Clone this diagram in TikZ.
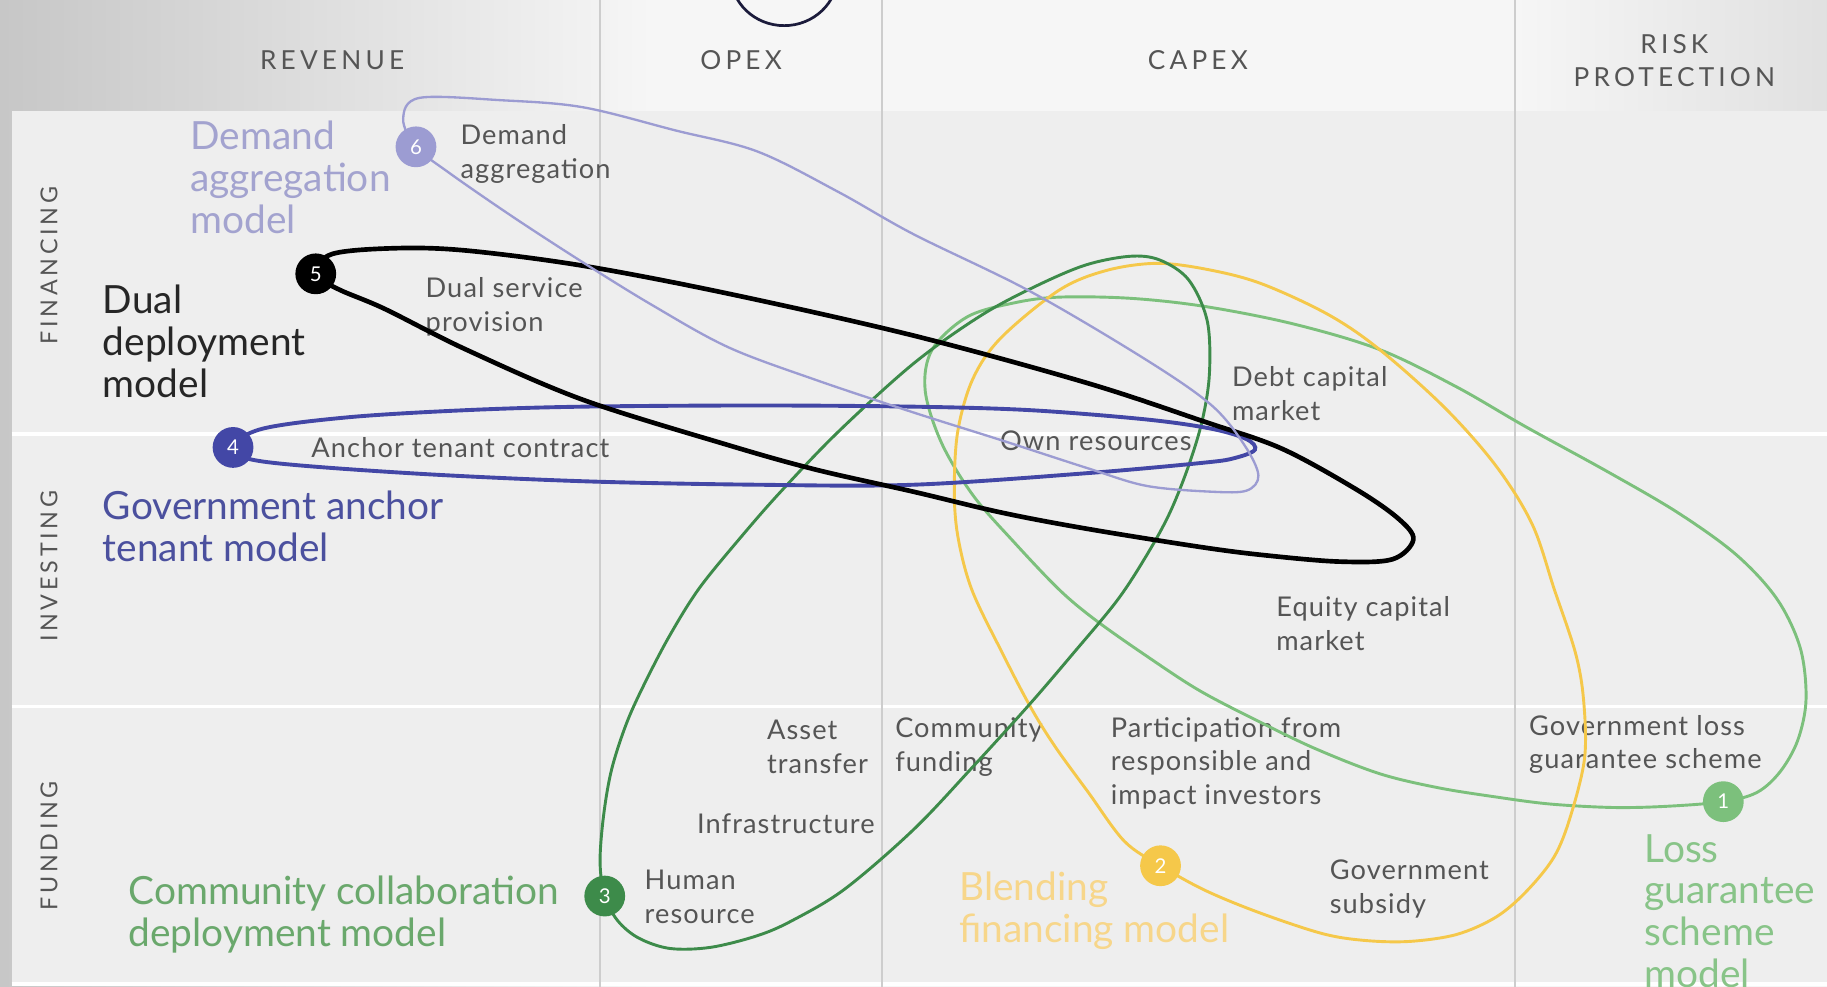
\documentclass[tikz,border=0pt]{standalone}
\usepackage{fontspec}
\setmainfont{Lato}[LetterSpace=4]
\newfontfamily\capsfont{Lato}[LetterSpace=16]
\newfontfamily\bigfont{Lato}
\usetikzlibrary{positioning}
\definecolor{cell}{HTML}{EEEEEE}
\definecolor{rule}{HTML}{CDCDCD}
\definecolor{txt}{HTML}{555555}
\definecolor{lav}{HTML}{9C9CD2}
\definecolor{lavtxt}{HTML}{A3A3CF}
\definecolor{navy}{HTML}{4347A6}
\definecolor{navytxt}{HTML}{4B509E}
\definecolor{dgreen}{HTML}{3D8B4A}
\definecolor{dgreentxt}{HTML}{6AA86C}
\definecolor{gold}{HTML}{F5C84A}
\definecolor{goldtxt}{HTML}{F7D68A}
\definecolor{lgreen}{HTML}{7CC07C}
\definecolor{lgreentxt}{HTML}{88C488}
\definecolor{ink}{HTML}{1B1B3B}
\definecolor{paper}{HTML}{F6F6F6}
\begin{document}
\begin{tikzpicture}[x=0.6pt,y=-0.6pt,
    head/.style={font=\capsfont\fontsize{13.5}{16.8}\selectfont, text=txt, align=center},
    side/.style={font=\capsfont\fontsize{12}{14}\selectfont, text=txt, rotate=90},
    item/.style={font=\fontsize{14}{17.4}\selectfont, text=txt, align=left, anchor=west, inner sep=0pt},
    model/.style={font=\bigfont\fontsize{20}{21.6}\selectfont, align=left, anchor=west, inner sep=0pt},
    badge/.style={circle, fill=#1, text=white, minimum size=21pt, inner sep=0pt, font=\fontsize{10.5}{10.5}\selectfont},
    loop/.style={draw=#1, line width=1.5pt}]
\useasboundingbox (0,0) rectangle (1568,847);
\fill[paper] (0,0) rectangle (1568,847);
\shade[left color=black!22, right color=paper] (0,0) rectangle (560,847);
\shade[left color=paper, right color=black!12] (1300,0) rectangle (1568,95);
\foreach \ya/\yb in {95/371, 374/605, 608/843}
  \fill[cell] (10,\ya) rectangle (1568,\yb);
\foreach \ya in {372.5,606.5,844.5}
  \draw[white, line width=1.6pt] (10,\ya) -- (1568,\ya);
\foreach \xa in {515,757,1300}
  \draw[rule, line width=0.9pt] (\xa,0) -- (\xa,847);
\draw[ink, line width=1.4pt] (673,-22) ellipse [x radius=46, y radius=44];

\node[head] (rev) at (285,52) {REVENUE};
\node[head] (opex) at (636,52) {OPEX};
\node[head] (capex) at (1028,52) {CAPEX};
\node[head] (risk) at (1437,52) {RISK\\PROTECTION};
\node[side] (fin) at (42,228) {FINANCING};
\node[side] (inv) at (42,486) {INVESTING};
\node[side] (fund) at (42,726) {FUNDING};

\node[model, text=lavtxt] (m6) at (163,152) {Demand\\aggregation\\model};
\node[model, text=black!85] (m5) at (88,293) {Dual\\deployment\\model};
\node[model, text=navytxt] (m4) at (88,452) {Government anchor\\tenant model};
\node[model, text=dgreentxt] (m3) at (110,785) {Community collaboration\\deployment model};
\node[model, text=goldtxt] (m2) at (823,782) {Blending\\financing model};
\node[model, text=lgreentxt] (m1) at (1411,782) {Loss\\guarantee\\scheme\\model};

\node[item] (demand) at (395,132) {Demand\\aggregation};
\node[item] (dual) at (365,263) {Dual service\\provision};
\node[item] (anchor) at (267,384) {Anchor tenant contract};
\node[item] (debt) at (1057,338) {Debt capital\\market};
\node[item] (own) at (858,378) {Own resources};
\node[item] (equity) at (1095,535) {Equity capital\\market};
\node[item] (asset) at (658,641) {Asset\\transfer};
\node[item] (comm) at (768,641) {Community\\funding};
\node[item] (part) at (953,655) {Participation from\\responsible and\\impact investors};
\node[item] (gloss) at (1312,639) {Government loss\\guarantee scheme};
\node[item] (infra) at (598,707) {Infrastructure};
\node[item] (human) at (553,770) {Human\\resource};
\node[item] (subsidy) at (1141,763) {Government\\subsidy};

\coordinate (c6) at (357,126);
\coordinate (c5) at (271,235);
\coordinate (c4) at (200,384);
\coordinate (c3) at (519,769);
\coordinate (c2) at (996,743);
\coordinate (c1) at (1479,688);

\draw[loop=lgreen] plot[smooth cycle, tension=0.55] coordinates {(c1) (1430,692) (1384,693) (1330,690) (1284,684) (1234,676) (1184,664) (1130,643) (1084,621) (1030,593) (984,563) (940,532) (909,506) (870,465) (835,425) (808,380) (794,335) (800,300) (830,272) (870,260) (909,255) (970,256) (1034,263) (1110,278) (1184,300) (1250,332) (1309,366) (1380,405) (1440,440) (1490,476) (1525,514) (1545,556) (1550,600) (1543,635) (1528,662) (1508,680)};
\draw[loop=gold] plot[smooth cycle, tension=0.55] coordinates {(c2) (965,722) (934,680) (905,640) (884,606) (860,560) (834,506) (822,460) (819,420) (822,370) (835,325) (859,290) (909,249) (950,232) (994,226) (1040,232) (1084,244) (1140,270) (1184,300) (1240,350) (1284,400) (1315,450) (1334,506) (1352,560) (1359,600) (1360,650) (1348,700) (1334,735) (1310,765) (1284,787) (1250,802) (1209,808) (1170,807) (1134,801) (1080,783) (1034,764)};
\draw[loop=dgreen] plot[smooth cycle, tension=0.55] coordinates {(c3) (515,740) (518,700) (525,660) (538,620) (554,585) (575,545) (600,505) (635,462) (670,422) (720,370) (784,312) (840,272) (884,248) (930,228) (969,220) (995,223) (1020,240) (1036,275) (1038,320) (1032,360) (1020,400) (1004,440) (985,475) (959,515) (920,562) (884,604) (835,658) (784,712) (725,763) (680,790) (650,803) (610,813) (575,814) (548,805) (530,790)};
\draw[loop=navy, line width=2pt] plot[smooth cycle, tension=0.55] coordinates {(c4) (225,368) (300,358) (400,352) (500,349) (650,348) (784,349) (884,352) (984,360) (1040,368) (1070,377) (1077,386) (1060,393) (1034,397) (934,406) (784,416) (650,416) (500,413) (350,406) (225,396)};
\draw[loop=black, line width=2.4pt] plot[smooth cycle, tension=0.55] coordinates {(c5) (285,218) (340,213) (400,215) (500,228) (625,252) (784,288) (934,329) (1034,362) (1100,385) (1164,420) (1200,445) (1213,463) (1195,480) (1150,482) (1090,477) (1034,470) (934,454) (860,440) (784,422) (700,403) (625,382) (500,343) (400,300) (330,265) (290,248)};
\draw[loop=lav, line width=1.2pt] plot[smooth cycle, tension=0.55] coordinates {(c6) (346,102) (360,84) (430,86) (500,92) (580,112) (650,130) (720,165) (784,201) (884,250) (984,309) (1040,348) (1068,382) (1080,408) (1070,421) (1040,422) (984,417) (934,402) (860,378) (784,354) (700,326) (625,298) (560,262) (500,225) (440,186) (385,148)};

\node[badge=lgreen] (n1) at (c1) {1};
\node[badge=gold] (n2) at (c2) {2};
\node[badge=dgreen] (n3) at (c3) {3};
\node[badge=navy] (n4) at (c4) {4};
\node[badge=black] (n5) at (c5) {5};
\node[badge=lav] (n6) at (c6) {6};
\end{tikzpicture}
\end{document}
